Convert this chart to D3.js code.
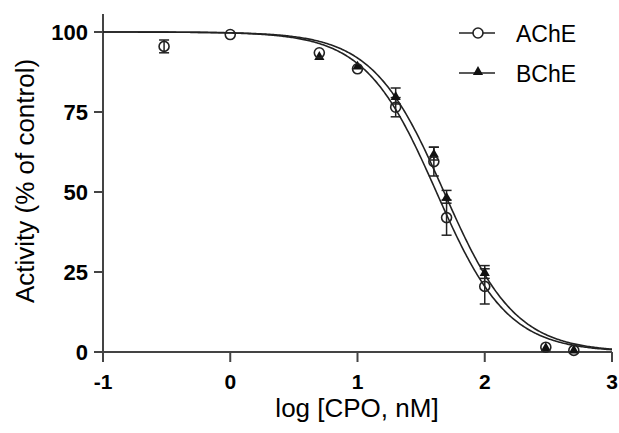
<!DOCTYPE html>
<html>
<head>
<meta charset="utf-8">
<script src="https://cdn.jsdelivr.net/npm/d3@7"></script>
<style>
  body { margin: 0; background: #fff; }
  svg { font-family: "Liberation Sans", Arial, sans-serif; }
</style>
</head>
<body>
<div id="chart"></div>
<script>
// data (x = log concentration, y = % activity, e = SEM)
const acheX = [-0.52, 0, 0.7, 1, 1.3, 1.6, 1.7, 2, 2.48, 2.7];
const acheY = [95.5, 99.2, 93.5, 88.5, 76.5, 59.5, 42, 20.5, 1.5, 0.5];
const acheE = [2, 0.5, 1, 1, 3, 4.5, 5.5, 5.5, 0.5, 0.5];

const bcheX = [0.7, 1, 1.3, 1.6, 1.7, 2, 2.48, 2.7];
const bcheY = [92.5, 89.5, 80, 62, 48.5, 25, 1.5, 0.8];
const bcheE = [1, 1, 2.5, 2, 2, 2, 0.5, 0.5];

// fitted curves: [logIC50, hill slope]
const acheFit = [1.62, 1.55];
const bcheFit = [1.68, 1.55];

const xTicks = [-1, 0, 1, 2, 3];
const yTicks = [0, 25, 50, 75, 100];
const legendNames = ["AChE", "BChE"];

const W = 619, H = 433;
const margin = {top: 32, left: 103};

const svg = d3.select("#chart").append("svg")
  .attr("width", W).attr("height", H);
const g = svg.append("g")
  .attr("transform", `translate(${margin.left},${margin.top})`);

const x = d3.scaleLinear().domain([-1, 3]).range([0, 509]);
const y = d3.scaleLinear().domain([0, 100]).range([320, 0]);

const axisCol = "#444";

// y axis (extends a bit above 100)
g.append("line")
  .attr("x1", 0).attr("x2", 0)
  .attr("y1", y(105.6)).attr("y2", y(0) + 10)
  .attr("stroke", axisCol).attr("stroke-width", 2);
g.append("g").selectAll("line").data(yTicks).join("line")
  .attr("x1", -9).attr("x2", 0)
  .attr("y1", d => y(d)).attr("y2", d => y(d))
  .attr("stroke", axisCol).attr("stroke-width", 2);
g.append("g").selectAll("text").data(yTicks).join("text")
  .attr("x", -15).attr("y", d => y(d) + 8)
  .attr("text-anchor", "end")
  .attr("font-size", 22).attr("font-weight", "bold")
  .text(d => d);

// x axis
g.append("line")
  .attr("x1", 0).attr("x2", x(3))
  .attr("y1", y(0)).attr("y2", y(0))
  .attr("stroke", axisCol).attr("stroke-width", 2);
g.append("g").selectAll("line").data(xTicks).join("line")
  .attr("x1", d => x(d)).attr("x2", d => x(d))
  .attr("y1", y(0)).attr("y2", y(0) + 10)
  .attr("stroke", axisCol).attr("stroke-width", 2);
g.append("g").selectAll("text").data(xTicks).join("text")
  .attr("x", d => x(d)).attr("y", y(0) + 37)
  .attr("text-anchor", "middle")
  .attr("font-size", 21).attr("font-weight", "bold")
  .text(d => d);

// axis titles
svg.append("text")
  .attr("x", 357).attr("y", 417)
  .attr("text-anchor", "middle").attr("font-size", 26)
  .text("log [CPO, nM]");
svg.append("text")
  .attr("transform", "translate(34,181) rotate(-90)")
  .attr("text-anchor", "middle").attr("font-size", 26)
  .text("Activity (% of control)");

// curves
function hill(fit) {
  return xv => 100 / (1 + Math.pow(10, (xv - fit[0]) * fit[1]));
}
const xs = d3.range(-1, 3.0001, 0.01);
const line = d3.line().x(d => x(d[0])).y(d => y(d[1]));
[acheFit, bcheFit].forEach(fit => {
  const f = hill(fit);
  g.append("path")
    .datum(xs.map(v => [v, f(v)]))
    .attr("d", line)
    .attr("fill", "none")
    .attr("stroke", "#222").attr("stroke-width", 1.6);
});

// error bars
function errorBars(xa, ya, ea) {
  const eg = g.append("g").attr("stroke", "#222").attr("stroke-width", 1.5);
  xa.forEach((xv, i) => {
    if (ea[i] < 1.2) return;
    const cx = x(xv);
    eg.append("line").attr("x1", cx).attr("x2", cx)
      .attr("y1", y(ya[i] + ea[i])).attr("y2", y(ya[i] - ea[i]));
    [ya[i] + ea[i], ya[i] - ea[i]].forEach(v => {
      eg.append("line").attr("x1", cx - 5).attr("x2", cx + 5)
        .attr("y1", y(v)).attr("y2", y(v));
    });
  });
}
errorBars(bcheX, bcheY, bcheE);
errorBars(acheX, acheY, acheE);

// points
const tri = d3.symbol().type(d3.symbolTriangle).size(45);
g.append("g").selectAll("path").data(bcheX).join("path")
  .attr("d", tri)
  .attr("transform", (d, i) => `translate(${x(d)},${y(bcheY[i]) + 1})`)
  .attr("fill", "#111");
g.append("g").selectAll("circle").data(acheX).join("circle")
  .attr("cx", d => x(d)).attr("cy", (d, i) => y(acheY[i]))
  .attr("r", 5)
  .attr("fill", "none").attr("stroke", "#222").attr("stroke-width", 1.6);

// legend
const lg = svg.append("g");
legendNames.forEach((name, i) => {
  const ly = 33 + i * 40;
  lg.append("line").attr("x1", 459).attr("x2", 495)
    .attr("y1", ly).attr("y2", ly)
    .attr("stroke", "#222").attr("stroke-width", 1.6);
  if (i === 0) {
    lg.append("circle").attr("cx", 478).attr("cy", ly).attr("r", 5)
      .attr("fill", "#fff").attr("stroke", "#222").attr("stroke-width", 1.6);
  } else {
    lg.append("path").attr("d", tri)
      .attr("transform", `translate(478,${ly - 1})`).attr("fill", "#111");
  }
  lg.append("text").attr("x", 516).attr("y", ly + 9)
    .attr("font-size", 23).text(name);
});
</script>
</body>
</html>
